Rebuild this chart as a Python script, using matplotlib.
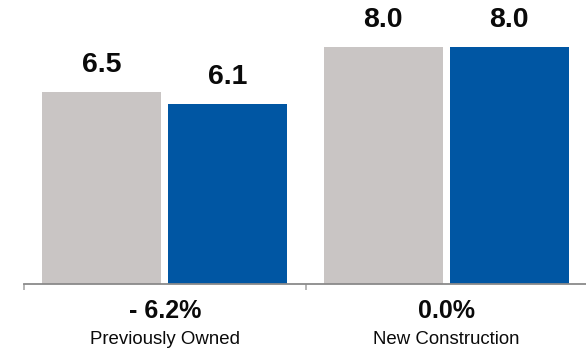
import matplotlib
matplotlib.use("Agg")
import matplotlib.pyplot as plt
from matplotlib.transforms import blended_transform_factory

plt.rcParams['font.family'] = ['Liberation Sans', 'DejaVu Sans']

categories = ["Previously Owned", "New Construction"]
prior_values = [6.5, 8.0]
current_values = [6.1, 8.0]
pct_changes = ["- 6.2%", "0.0%"]

gray = "#c9c5c4"
blue = "#0056a3"

fig = plt.figure(figsize=(5.86, 3.49), dpi=100)
ax = fig.add_axes([24 / 586, 65 / 349, 563 / 586, 284 / 349])

x = list(range(len(categories)))
width = 0.423
offset = 0.224
ax.bar([i - offset for i in x], prior_values, width=width, color=gray, zorder=2)
ax.bar([i + offset for i in x], current_values, width=width, color=blue, zorder=2)

for i in x:
    for xv, v in ((i - offset, prior_values[i]), (i + offset, current_values[i])):
        ax.annotate(f"{v:.1f}", (xv, v), xytext=(0, 14.4), textcoords="offset points",
                    ha="center", va="baseline", fontsize=20.5, fontweight="bold", color="#0a0a0a")

ax.set_xlim(-0.5, len(categories) - 0.5)
ax.set_ylim(0, 9.6)

for side in ("top", "right", "left"):
    ax.spines[side].set_visible(False)
ax.spines["bottom"].set_color("#8a8a8a")
ax.spines["bottom"].set_linewidth(1.3)
ax.set_yticks([])
ax.set_xticks([i - 0.5 for i in range(len(categories))])
ax.set_xticklabels([])
ax.tick_params(axis="x", direction="out", length=4.5, width=1.3, color="#b0b0b0")

trans = blended_transform_factory(ax.transData, fig.transFigure)
for i, (cat, pct) in enumerate(zip(categories, pct_changes)):
    ax.text(i, 31 / 349, pct, transform=trans, ha="center", va="baseline",
            fontsize=18, fontweight="bold", color="#0a0a0a")
    ax.text(i, 5.5 / 349, cat, transform=trans, ha="center", va="baseline",
            fontsize=13.4, color="#0a0a0a")

fig.savefig("out.png", dpi=100)
